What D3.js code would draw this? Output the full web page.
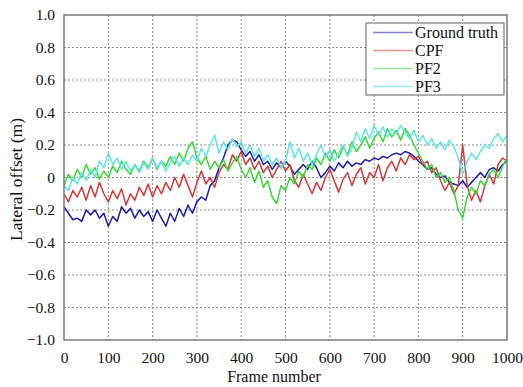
<!DOCTYPE html>
<html>
<head>
<meta charset="utf-8">
<script src="https://cdn.jsdelivr.net/npm/d3@7"></script>
<style>
  body { margin: 0; background: #fff; }
</style>
</head>
<body>
<svg id="chart" width="523" height="387"></svg>
<script>
// frames sampled every 10
const frames = d3.range(0, 1001, 10);

const groundTruth = [
  -0.18, -0.22, -0.26, -0.25, -0.27, -0.2, -0.23, -0.2, -0.25, -0.22,
  -0.3, -0.24, -0.27, -0.18, -0.22, -0.19, -0.25, -0.2, -0.24, -0.21,
  -0.27, -0.2, -0.25, -0.3, -0.22, -0.27, -0.19, -0.24, -0.17, -0.22,
  -0.15, -0.12, -0.14, -0.05, -0.02, 0.06, 0.12, 0.2, 0.23, 0.22,
  0.17, 0.13, 0.16, 0.1, 0.14, 0.08, 0.1, 0.05, 0.09, 0.06,
  0.1, 0.07, 0.02, 0.05, 0.08, 0.05, 0.1, 0.06, 0.0, 0.03,
  0.07, 0.04, 0.09, 0.06, 0.1, 0.07, 0.09, 0.08, 0.11, 0.1,
  0.12, 0.11, 0.13, 0.12, 0.14, 0.15, 0.14, 0.16, 0.15, 0.13,
  0.1, 0.08, 0.05, 0.06, 0.02, 0.0, 0.01, -0.03, -0.04, -0.05,
  -0.02, -0.06, -0.03, 0.0, 0.03, 0.0, 0.05, 0.06, 0.04, 0.08,
  0.1
];

const cpf = [
  -0.1, -0.15, -0.08, -0.12, -0.06, -0.14, -0.05, -0.12, -0.03, -0.1,
  -0.15, -0.08, -0.13, -0.07, -0.17, -0.1, -0.14, -0.06, -0.11, -0.04,
  -0.12, -0.05, -0.1, -0.03, -0.08, 0.0, -0.06, 0.02, -0.05, -0.12,
  -0.03, 0.04, -0.04, 0.0, -0.06, 0.03, 0.08, 0.05, 0.14, 0.1,
  0.16, 0.08, 0.12, 0.05, 0.1, 0.03, 0.07, 0.0, 0.05, 0.1,
  0.04, 0.08, -0.02, -0.06, 0.02, -0.04, -0.1, -0.03, -0.08, 0.0,
  0.05, -0.02, -0.09, -0.01, 0.03, -0.05, 0.02, 0.06, -0.04, 0.03,
  0.0, 0.08, -0.02, 0.06, 0.1, 0.04, 0.12, 0.08, 0.14, 0.11,
  0.13, 0.08, 0.1, 0.03, 0.06, -0.02, -0.08, -0.03, -0.1, -0.05,
  0.2, -0.05, -0.14, -0.08, -0.15, -0.05, 0.02, -0.04, 0.08, 0.12,
  0.1
];

const pf2 = [
  -0.05, 0.02, -0.02, 0.05, 0.0, 0.08, 0.02, 0.06, -0.01, 0.04,
  0.0, 0.07, 0.03, 0.1, 0.05, 0.02, 0.08, 0.04, 0.1, 0.06,
  0.12, 0.05, 0.1, 0.07, 0.13, 0.08, 0.15, 0.1, 0.18, 0.22,
  0.12, 0.08, 0.13, 0.05, 0.1, 0.06, 0.11, 0.04, 0.09, 0.13,
  0.05, 0.0, 0.06, -0.03, 0.04, -0.06, -0.02, -0.12, -0.16, -0.05,
  -0.08, 0.0, -0.04, 0.04, 0.0, 0.08, 0.05, 0.12, 0.08, 0.15,
  0.1, 0.17, 0.12, 0.19, 0.14, 0.22, 0.16, 0.2, 0.25, 0.18,
  0.24, 0.28, 0.22, 0.3, 0.25, 0.29, 0.23, 0.3, 0.26, 0.2,
  0.15, 0.1, 0.05, 0.08, 0.0, 0.03, -0.03, 0.0, -0.08, -0.2,
  -0.25, -0.12, -0.06, -0.1, -0.02, -0.05, 0.02, 0.05, 0.0, 0.07,
  0.12
];

const pf3 = [
  -0.05, -0.08, 0.0, -0.04, 0.03, -0.02, 0.05, 0.0, 0.1, 0.06,
  0.15, 0.08, 0.12, 0.05, 0.1, 0.04, 0.08, 0.03, 0.09, 0.05,
  0.12, 0.06, 0.1, 0.04, 0.09, 0.13, 0.07, 0.12, 0.08, 0.14,
  0.1, 0.18, 0.13, 0.2, 0.26, 0.15, 0.22, 0.17, 0.24, 0.19,
  0.22, 0.15, 0.2, 0.13, 0.18, 0.1, 0.14, 0.08, 0.12, 0.06,
  0.1, 0.22, 0.12, 0.18, 0.1, 0.15, 0.08, 0.14, 0.2, 0.12,
  0.17, 0.1, 0.15, 0.2, 0.13, 0.18, 0.28, 0.22, 0.3, 0.24,
  0.32, 0.26, 0.31, 0.25, 0.3, 0.27, 0.32, 0.28, 0.24, 0.29,
  0.22, 0.26, 0.2, 0.24, 0.18, 0.22, 0.17, 0.23, 0.19, 0.12,
  0.02, 0.1, 0.15, 0.11, 0.16, 0.2, 0.18, 0.24, 0.27, 0.22,
  0.26
];

const seriesNames = ['Ground truth', 'CPF', 'PF2', 'PF3'];
const seriesValues = [groundTruth, cpf, pf2, pf3];
const lineColors = ['#1c1ca6', '#d03a3a', '#38d838', '#5ee6e6'];
const legendColors = ['#8585c4', '#e49a9a', '#98e498', '#9ae8e8'];

const xTicks = d3.range(0, 1001, 100);
const yTicks = [1.0, 0.8, 0.6, 0.4, 0.2, 0, -0.2, -0.4, -0.6, -0.8, -1.0];

const FONT = 'Liberation Serif';
const margin = { left: 64, right: 16, top: 15, bottom: 47 };
const width = 523, height = 387;

const svg = d3.select('#chart').attr('font-family', FONT);

const x = d3.scaleLinear().domain([0, 1000]).range([margin.left, width - margin.right]);
const y = d3.scaleLinear().domain([-1, 1]).range([height - margin.bottom, margin.top]);

// grid
const grid = svg.append('g')
  .attr('stroke', '#8a8a8a')
  .attr('stroke-width', 1)
  .attr('stroke-dasharray', '2,2');

grid.selectAll('line.v')
  .data(xTicks.slice(1, -1))
  .join('line')
  .attr('x1', d => x(d)).attr('x2', d => x(d))
  .attr('y1', y(1)).attr('y2', y(-1));

grid.selectAll('line.h')
  .data(yTicks.slice(1, -1))
  .join('line')
  .attr('x1', x(0)).attr('x2', x(1000))
  .attr('y1', d => y(d)).attr('y2', d => y(d));

// series
const line = d3.line()
  .x((d, i) => x(frames[i]))
  .y(d => y(d));

svg.append('g')
  .selectAll('path')
  .data(seriesValues)
  .join('path')
  .attr('fill', 'none')
  .attr('stroke', (d, i) => lineColors[i])
  .attr('stroke-width', 1.5)
  .attr('stroke-linejoin', 'round')
  .attr('d', line);

// frame
svg.append('rect')
  .attr('x', x(0)).attr('y', y(1))
  .attr('width', x(1000) - x(0))
  .attr('height', y(-1) - y(1))
  .attr('fill', 'none')
  .attr('stroke', '#7a7a7a')
  .attr('stroke-width', 1.5);

// axes
const xAxis = svg.append('g')
  .attr('transform', `translate(0, ${ y(-1) })`)
  .call(d3.axisBottom(x).tickValues(xTicks).tickSize(0).tickPadding(12).tickFormat(d3.format('d')));
xAxis.attr('font-family', FONT).attr('font-size', 15.5);
xAxis.select('.domain').remove();
xAxis.selectAll('text')
  .attr('font-family', FONT)
  .attr('font-size', 15.5)
  .attr('fill', '#111');

const yAxis = svg.append('g')
  .attr('transform', `translate(${ x(0) }, 0)`)
  .call(d3.axisLeft(y).tickValues(yTicks).tickSize(0).tickPadding(9)
    .tickFormat(d => d === 0 ? '0' : d3.format('.1f')(d)));
yAxis.attr('font-family', FONT).attr('font-size', 15.5);
yAxis.select('.domain').remove();
yAxis.selectAll('text')
  .attr('font-family', FONT)
  .attr('font-size', 15.5)
  .attr('fill', '#111');

// axis titles
svg.append('text')
  .attr('x', 274)
  .attr('y', 382)
  .attr('text-anchor', 'middle')
  .attr('font-family', FONT)
  .attr('font-size', 16)
  .attr('fill', '#111')
  .text('Frame number');

svg.append('text')
  .attr('transform', `translate(22, ${ y(0) + 2 }) rotate(-90)`)
  .attr('text-anchor', 'middle')
  .attr('font-family', FONT)
  .attr('font-size', 17.5)
  .attr('fill', '#111')
  .text('Lateral offset (m)');

// legend
const legend = svg.append('g').attr('transform', 'translate(366, 23)');
legend.append('rect')
  .attr('width', 138).attr('height', 72)
  .attr('fill', '#fff')
  .attr('stroke', '#7a7a7a')
  .attr('stroke-width', 1.2);

const item = legend.selectAll('g.item')
  .data(seriesNames)
  .join('g')
  .attr('transform', (d, i) => `translate(0, ${ 9.5 + i * 18 })`);

item.append('line')
  .attr('x1', 7).attr('x2', 47)
  .attr('stroke', (d, i) => legendColors[i])
  .attr('stroke-width', 1.6);

item.append('text')
  .attr('x', 49)
  .attr('dy', '0.35em')
  .attr('font-family', FONT)
  .attr('font-size', 16)
  .attr('fill', '#111')
  .text(d => d);
</script>
</body>
</html>
